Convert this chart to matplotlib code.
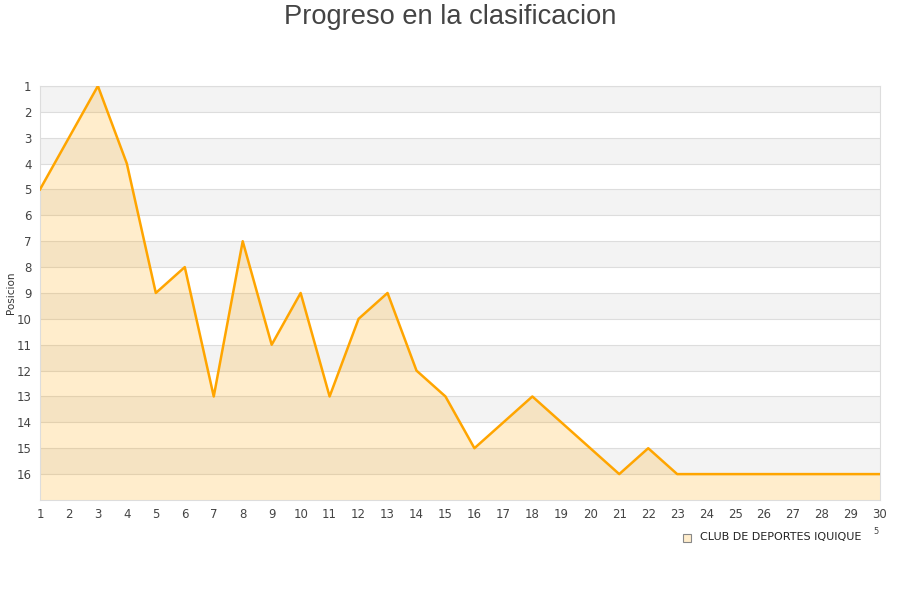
import matplotlib.pyplot as plt

jornadas = list(range(1, 31))
posiciones = [5, 3, 1, 4, 9, 8, 13, 7, 11, 9, 13, 10, 9, 12, 13, 15, 14, 13, 14, 15,
              16, 15, 16, 16, 16, 16, 16, 16, 16, 16]
equipo = "CLUB DE DEPORTES IQUIQUE"
n_equipos = 16

fig = plt.figure(figsize=(9, 6), dpi=100)
ax = fig.add_axes([0.0444, 0.1667, 0.9333, 0.69])

# bandas alternas
for p in range(1, n_equipos + 1, 2):
    ax.axhspan(p, p + 1, color="#f3f3f3", zorder=0, lw=0)
for p in range(1, n_equipos + 1):
    ax.axhline(p, color="#dddddd", lw=0.8, zorder=1)

ax.fill_between(jornadas, posiciones, n_equipos + 1, color="#FFA500", alpha=0.2, lw=0, zorder=2)
ax.plot(jornadas, posiciones, color="#FFA500", lw=1.8, zorder=3)

ax.set_xlim(1, 30)
ax.set_ylim(n_equipos + 1, 1)
ax.set_xticks(jornadas)
ax.set_yticks(range(1, n_equipos + 1))
ax.tick_params(length=0, labelsize=8.5, colors="#444444", pad=6)
for s in ax.spines.values():
    s.set_color("#dddddd")
fig.text(11 / 900, 1 - 293 / 600, "Posicion", fontsize=7.5, color="#333333",
         rotation=90, ha="center", va="center")

fig.text(0.5, 1 - 17 / 600, "Progreso en la clasificacion", ha="center", va="center",
         fontsize=19.6, color="#444444", family="Liberation Sans")

# leyenda
fig.patches.append(plt.Rectangle((683 / 900, 1 - 542 / 600), 8 / 900, 8 / 600,
                                 transform=fig.transFigure, facecolor="#FFEDCC",
                                 edgecolor="#888888", lw=0.8))
fig.text(700 / 900, 1 - 537 / 600, equipo, fontsize=8, color="#222222", va="center")
fig.text(876 / 900, 1 - 532 / 600, "5", fontsize=6, color="#444444", ha="center", va="center")

fig.savefig("out.png")
